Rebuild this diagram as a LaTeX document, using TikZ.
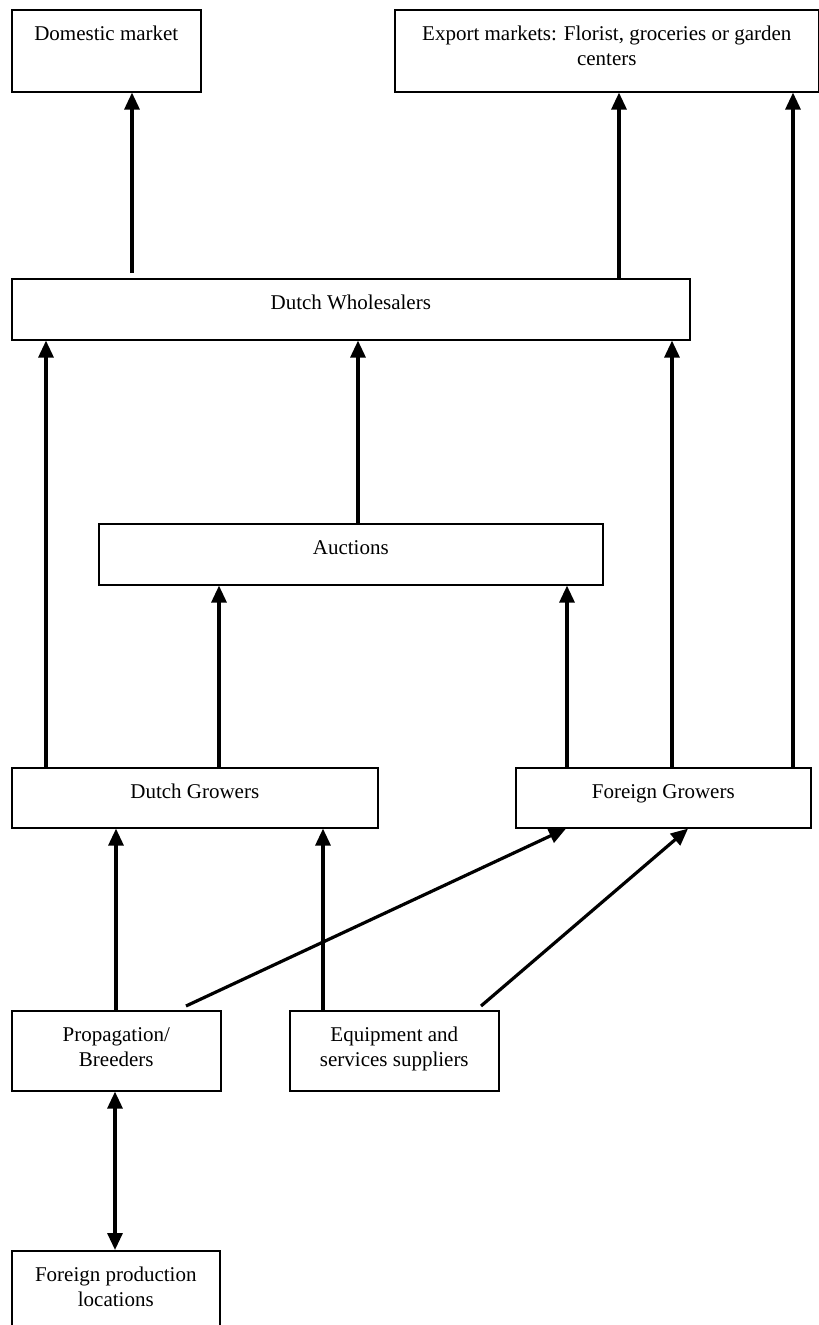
\documentclass[tikz,border=0pt]{standalone}
\usepackage{fontspec}
\setmainfont{Liberation Serif}
\usetikzlibrary{arrows.meta,calc}
\newcommand{\bxtext}[3]{\parbox[t][#2][t]{#1}{\centering\rule{0pt}{31pt}#3\par}}
\begin{document}
\begin{tikzpicture}[x=1pt,y=-1pt,
  box/.style={draw, line width=1.6pt, inner sep=0pt, anchor=north west, font=\fontsize{21}{25}\selectfont},
  arr/.style={line width=3.2pt, -{Triangle[width=15pt,length=17pt]}},
  darr/.style={line width=3.2pt, {Triangle[width=15pt,length=17pt]}-{Triangle[width=15pt,length=17pt]}}]
\useasboundingbox (0,0) rectangle (819,1325);
\clip (0,0) rectangle (819,1325);
\fill[white] (0,0) rectangle (819,1325);

\node[box] (dom) at (11,9)    {\bxtext{189pt}{82pt}{Domestic market}};
\node[box] (exp) at (394,9)   {\bxtext{424pt}{82pt}{Export markets: Florist, groceries or garden\\centers}};
\node[box] (dw)  at (11,278)  {\bxtext{678pt}{61pt}{Dutch Wholesalers}};
\node[box] (au)  at (98,523)  {\bxtext{504pt}{61pt}{Auctions}};
\node[box] (dg)  at (11,767)  {\bxtext{366pt}{60pt}{Dutch Growers}};
\node[box] (fg)  at (515,767) {\bxtext{295pt}{60pt}{Foreign Growers}};
\node[box] (pb)  at (11,1010) {\bxtext{209pt}{80pt}{Propagation/\\Breeders}};
\node[box] (eq)  at (289,1010){\bxtext{209pt}{80pt}{Equipment and\\services suppliers}};
\node[box] (fp)  at (11,1250) {\bxtext{208pt}{82pt}{Foreign production\\locations}};

\draw[arr] ($(dw.north -| 132,0)+(0,-5)$) -- (dom.south -| 132,0);
\draw[arr] (dw.north -| 619,0) -- (exp.south -| 619,0);
\draw[arr] (fg.north -| 793,0) -- (exp.south -| 793,0);
\draw[arr] (dg.north -| 46,0)  -- (dw.south -| 46,0);
\draw[arr] (au.north -| 358,0) -- (dw.south -| 358,0);
\draw[arr] (fg.north -| 672,0) -- (dw.south -| 672,0);
\draw[arr] (dg.north -| 219,0) -- (au.south -| 219,0);
\draw[arr] (fg.north -| 567,0) -- (au.south -| 567,0);
\draw[arr] (pb.north -| 116,0) -- (dg.south -| 116,0);
\draw[arr] (eq.north -| 323,0) -- (dg.south -| 323,0);
\draw[arr] ($(pb.north -| 186,0)+(0,-4)$) -- (fg.south -| 566,0);
\draw[arr] ($(eq.north -| 481,0)+(0,-4)$) -- (fg.south -| 688,0);
\draw[darr] (pb.south -| 115,0) -- (fp.north -| 115,0);
\end{tikzpicture}
\end{document}
